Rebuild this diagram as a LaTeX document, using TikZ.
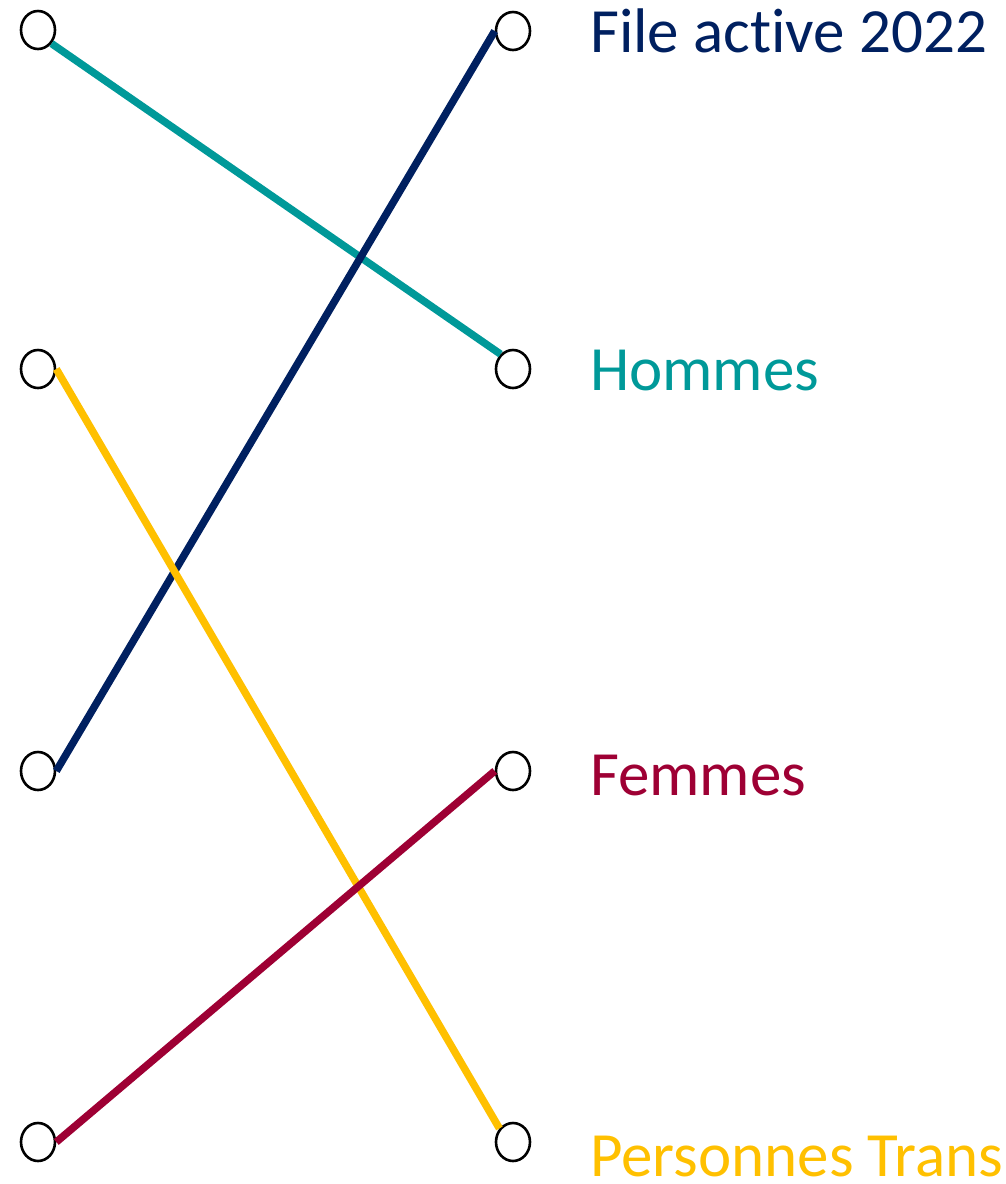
\documentclass[tikz,border=0pt]{standalone}
\usepackage{fontspec}
\setmainfont[Ligatures={NoCommon}]{Carlito}
\usetikzlibrary{shapes.geometric}
\definecolor{navyc}{HTML}{002060}
\definecolor{tealc}{HTML}{009999}
\definecolor{redc}{HTML}{9E0034}
\definecolor{yellowc}{HTML}{FFC000}
\begin{document}
\begin{tikzpicture}[x=1pt,y=-1pt,
  dot/.style={draw=black,line width=2.6pt,ellipse,minimum width=34pt,minimum height=38pt,inner sep=0pt,fill=white},
  link/.style={line width=7.5pt,line cap=butt},
  lab/.style={anchor=base west,inner sep=0pt,font=\fontsize{63}{63}\selectfont}]
\useasboundingbox (0,0) rectangle (1005,1184);
\node[dot] (l1) at (38,30) {};
\node[dot] (l2) at (38,369) {};
\node[dot] (l3) at (38,771) {};
\node[dot] (l4) at (38,1142) {};
\node[dot] (r1) at (513,31) {};
\node[dot] (r2) at (513,369) {};
\node[dot] (r3) at (513,771) {};
\node[dot] (r4) at (513,1142) {};
\draw[link,tealc] (l1.-45) -- (r2.130);
\draw[link,navyc] (r1.west) -- (l3.east);
\draw[link,yellowc] (l2.east) -- (r4.135);
\draw[link,redc] (r3.west) -- (l4.east);
\node[lab,text=navyc] (t1) at (590,52) {File active 2022};
\node[lab,text=tealc] (t2) at (590,390) {Hommes};
\node[lab,text=redc] (t3) at (590,795) {Femmes};
\node[lab,text=yellowc] (t4) at (590,1176) {Personnes Trans};
\end{tikzpicture}
\end{document}
